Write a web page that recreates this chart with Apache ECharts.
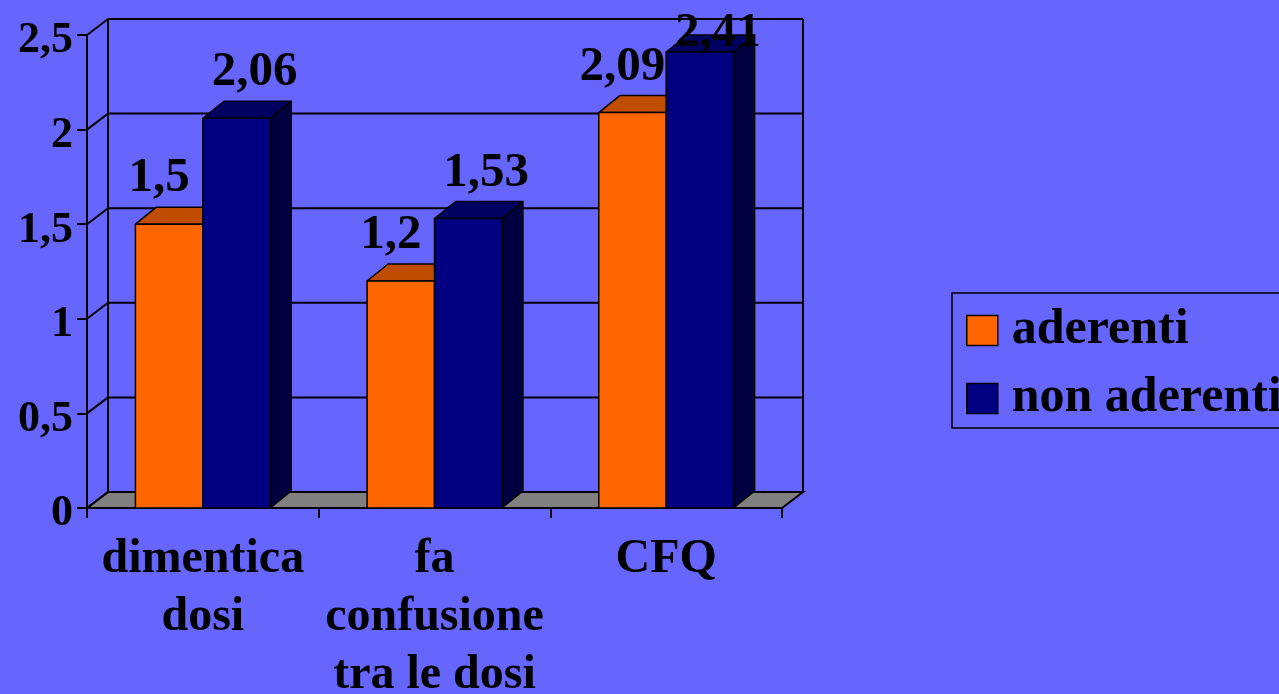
<!DOCTYPE html>
<html>
<head>
<meta charset="utf-8">
<style>
  html, body { margin: 0; padding: 0; background: #6666ff; }
  #chart { width: 1279px; height: 694px; }
</style>
<script src="https://cdn.jsdelivr.net/npm/echarts@6/dist/echarts.min.js"></script>
</head>
<body>
<div id="chart"></div>
<script>
// Categories and values
const categories = ['dimentica\ndosi', 'fa\nconfusione\ntra le dosi', 'CFQ'];
const seriesNames = ['aderenti', 'non aderenti'];
const aderenti = [1.5, 1.2, 2.09];
const nonAderenti = [2.06, 1.53, 2.41];
const yTicks = [0, 0.5, 1, 1.5, 2, 2.5];

// Faux-3D look: depth offset of walls and bars
const DEPTH_X = 21;
const DEPTH_Y = -16;
const BAR_DEPTH_Y = -17;
const BAR_RATIO = 0.291;   // each bar's share of a category band
const FONT = '"Liberation Serif", "Times New Roman", serif';

const palettes = [
  { front: '#ff6600', top: '#bf4c00', side: '#803300', labelShift: -10 },
  { front: '#000080', top: '#000060', side: '#000040', labelShift: 18 }
];

const fmt = v => String(v).replace('.', ',');

function renderFloor(params, api) {
  const cs = params.coordSys;
  const y0 = api.coord([0, 0])[1];
  const yTop = api.coord([0, yTicks[yTicks.length - 1]])[1];
  const l = cs.x, r = cs.x + cs.width;
  const line = { stroke: '#000', lineWidth: 2 };
  return {
    type: 'group',
    children: [
      { type: 'polygon', shape: { points: [[l, y0], [r, y0], [r + DEPTH_X, y0 + DEPTH_Y], [l + DEPTH_X, y0 + DEPTH_Y]] },
        style: { fill: '#808080', stroke: '#000', lineWidth: 2 } },
      { type: 'line', shape: { x1: l + DEPTH_X, y1: y0 + DEPTH_Y, x2: l + DEPTH_X, y2: yTop + DEPTH_Y }, style: line },
      { type: 'line', shape: { x1: r + DEPTH_X, y1: y0 + DEPTH_Y, x2: r + DEPTH_X, y2: yTop + DEPTH_Y }, style: line }
    ]
  };
}

function renderWall(params, api) {
  const cs = params.coordSys;
  const y = api.coord([0, api.value(1)])[1];
  const l = cs.x, r = cs.x + cs.width;
  const line = { stroke: '#000', lineWidth: 2 };
  return {
    type: 'group',
    children: [
      { type: 'line', shape: { x1: l + DEPTH_X, y1: y + DEPTH_Y, x2: r + DEPTH_X, y2: y + DEPTH_Y }, style: line },
      { type: 'line', shape: { x1: l, y1: y, x2: l + DEPTH_X, y2: y + DEPTH_Y }, style: line }
    ]
  };
}

function makeBarRenderer(side) {
  const pal = palettes[side];
  return function (params, api) {
    const cat = api.value(0), v = api.value(1);
    const top = api.coord([cat, v]);
    const base = api.coord([cat, 0]);
    const w = api.size([1, 0])[0] * BAR_RATIO;
    const x0 = side === 0 ? top[0] - w : top[0];
    const x1 = x0 + w;
    const yt = top[1], yb = base[1];
    const dx = DEPTH_X, dy = BAR_DEPTH_Y;
    const edge = { stroke: '#000', lineWidth: 1.5, lineJoin: 'round' };
    const labelY = Math.max(yt + dy - 4, params.coordSys.y + 23);
    return {
      type: 'group',
      children: [
        { type: 'polygon', shape: { points: [[x1, yt], [x1 + dx, yt + dy], [x1 + dx, yb + dy], [x1, yb]] },
          style: Object.assign({ fill: pal.side }, edge) },
        { type: 'polygon', shape: { points: [[x0, yt], [x1, yt], [x1 + dx, yt + dy], [x0 + dx, yt + dy]] },
          style: Object.assign({ fill: pal.top }, edge) },
        { type: 'rect', shape: { x: x0, y: yt, width: w, height: yb - yt },
          style: Object.assign({ fill: pal.front }, edge) },
        { type: 'text', z2: 100, x: (x0 + x1) / 2 + pal.labelShift, y: labelY,
          style: { text: fmt(v), fill: '#000', font: 'bold 49px ' + FONT, align: 'center', verticalAlign: 'bottom' } }
      ]
    };
  };
}

const chart = echarts.init(document.getElementById('chart'));
chart.setOption({
  backgroundColor: '#6666ff',
  animation: false,
  grid: { left: 87, right: 497, top: 35, bottom: 186, containLabel: false, outerBoundsMode: 'none' },
  legend: {
    data: seriesNames,
    orient: 'vertical',
    left: 952,
    top: 293,
    padding: [10, 14, 2, 14],
    itemGap: 13,
    itemWidth: 31,
    itemHeight: 30,
    icon: 'rect',
    borderColor: '#000',
    borderWidth: 1.5,
    itemStyle: { borderColor: '#000', borderWidth: 1.5 },
    textStyle: { fontFamily: FONT, fontWeight: 'bold', fontSize: 50, lineHeight: 50, color: '#000', padding: [5, 0, 0, 9] }
  },
  xAxis: {
    type: 'category',
    data: categories,
    boundaryGap: true,
    axisLine: { lineStyle: { color: '#000', width: 2 } },
    axisTick: { show: true, length: 10, lineStyle: { color: '#000', width: 2 } },
    axisLabel: { margin: 23, color: '#000', fontFamily: FONT, fontWeight: 'bold', fontSize: 48, lineHeight: 58, interval: 0 },
    splitLine: { show: false }
  },
  yAxis: {
    type: 'value',
    min: yTicks[0],
    max: yTicks[yTicks.length - 1],
    interval: yTicks[1] - yTicks[0],
    axisLine: { show: true, lineStyle: { color: '#000', width: 2 } },
    axisTick: { show: true, length: 10, lineStyle: { color: '#000', width: 2 } },
    axisLabel: {
      margin: 14, color: '#000', fontFamily: FONT, fontWeight: 'bold', fontSize: 44,
      formatter: v => '{t|' + fmt(v) + '}',
      rich: { t: { fontFamily: FONT, fontWeight: 'bold', fontSize: 44, color: '#000', padding: [12, 0, 0, 0] } }
    },
    splitLine: { show: false }
  },
  series: [
    { type: 'custom', name: 'floor', silent: true, z: 1, data: [[0, 0]], renderItem: renderFloor },
    { type: 'custom', name: 'wall', silent: true, z: 1, data: yTicks.map(v => [0, v]), renderItem: renderWall },
    { type: 'custom', name: seriesNames[0], z: 2, itemStyle: { color: palettes[0].front },
      data: aderenti.map((v, i) => [i, v]), renderItem: makeBarRenderer(0) },
    { type: 'custom', name: seriesNames[1], z: 2, itemStyle: { color: palettes[1].front },
      data: nonAderenti.map((v, i) => [i, v]), renderItem: makeBarRenderer(1) }
  ]
});
</script>
</body>
</html>
